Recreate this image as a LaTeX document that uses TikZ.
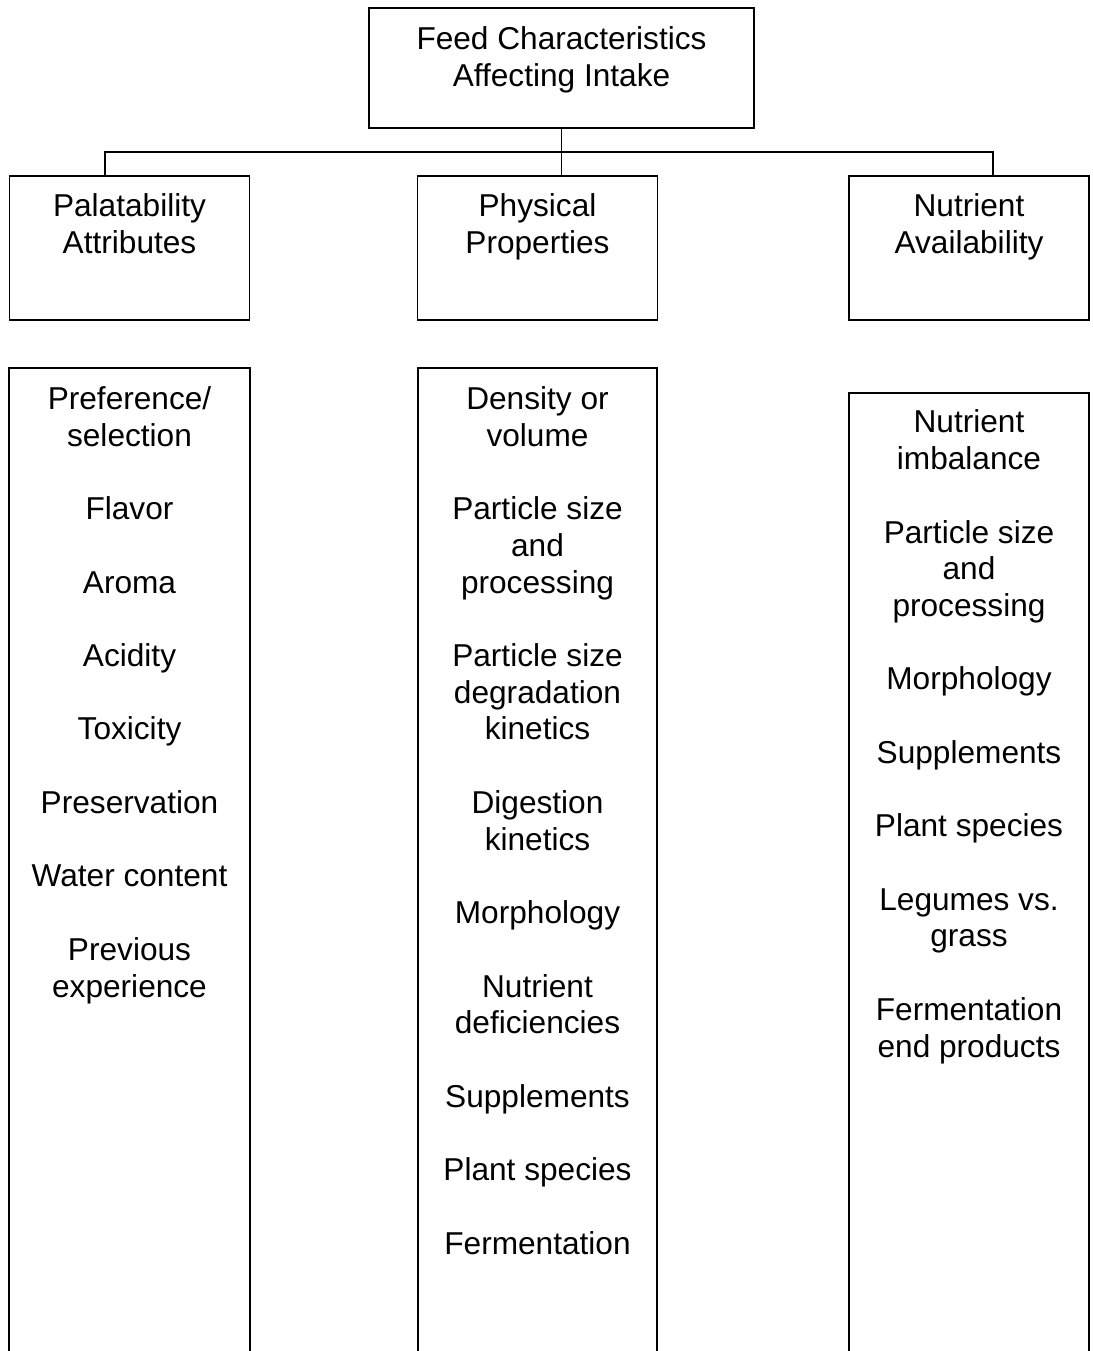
\documentclass[tikz,border=0pt]{standalone}
\usepackage{fontspec}
\setmainfont{Liberation Sans}

\newcommand{\abstand}{20.9pt}

\begin{document}
\begin{tikzpicture}[
      x=0.02cm,
      y=-0.02cm,
      line width=1.1pt,
      every node/.style={
        font=\fontsize{18}{20.9}\selectfont,
        align=center,
        inner sep=0pt
      },
      kasten/.style={
        draw,
        minimum width=4.8cm,
        minimum height=2.88cm
      },
      liste/.style={anchor=north}
    ]
      \useasboundingbox (0,0) rectangle (1092,1351);

      % Kaesten
      \node [kasten, minimum width=7.7cm, minimum height=2.4cm] (feed) at (561.5,68) {};
      \node [kasten] (pal) at (129.5,248) {};
      \node [kasten] (phys) at (537.5,248) {};
      \node [kasten] (nutr) at (969,248) {};

      % Verbindungen
      \coordinate (busL) at (105,152);
      \coordinate (busR) at (993,152);
      \draw (feed.south) -- (feed.south |- phys.north);
      \draw (busL |- pal.north) -- (busL) -- (busR) -- (busR |- nutr.north);

      % Spalten (unten offen)
      \draw (9,1351) |- (250,368) -- (250,1351);
      \draw (418,1351) |- (657,368) -- (657,1351);
      \draw (849,1351) |- (1089,393) -- (1089,1351);

      % Ueberschriften
      \node [liste] (feedText) at (561.5,25.5) {Feed Characteristics\\Affecting Intake};
      \node [liste] (palText) at (129.5,193) {Palatability\\Attributes};
      \node [liste] (physText) at (537.5,193) {Physical\\Properties};
      \node [liste] (nutrText) at (969,193) {Nutrient\\Availability};

      % Listen
      \node [liste] (palList) at (129.5,385.6) {Preference/\\selection\\[\abstand]
        Flavor\\[\abstand] Aroma\\[\abstand] Acidity\\[\abstand] Toxicity\\[\abstand]
        Preservation\\[\abstand] Water content\\[\abstand] Previous\\experience};
      \node [liste] (physList) at (537.5,385.6) {Density or\\volume\\[\abstand]
        Particle size\\and\\processing\\[\abstand]
        Particle size\\degradation\\kinetics\\[\abstand]
        Digestion\\kinetics\\[\abstand] Morphology\\[\abstand]
        Nutrient\\deficiencies\\[\abstand] Supplements\\[\abstand]
        Plant species\\[\abstand] Fermentation};
      \node [liste] (nutrList) at (969,409) {Nutrient\\imbalance\\[\abstand]
        Particle size\\and\\processing\\[\abstand] Morphology\\[\abstand]
        Supplements\\[\abstand] Plant species\\[\abstand]
        Legumes vs.\\grass\\[\abstand] Fermentation\\end products};
    \end{tikzpicture}
\end{document}
